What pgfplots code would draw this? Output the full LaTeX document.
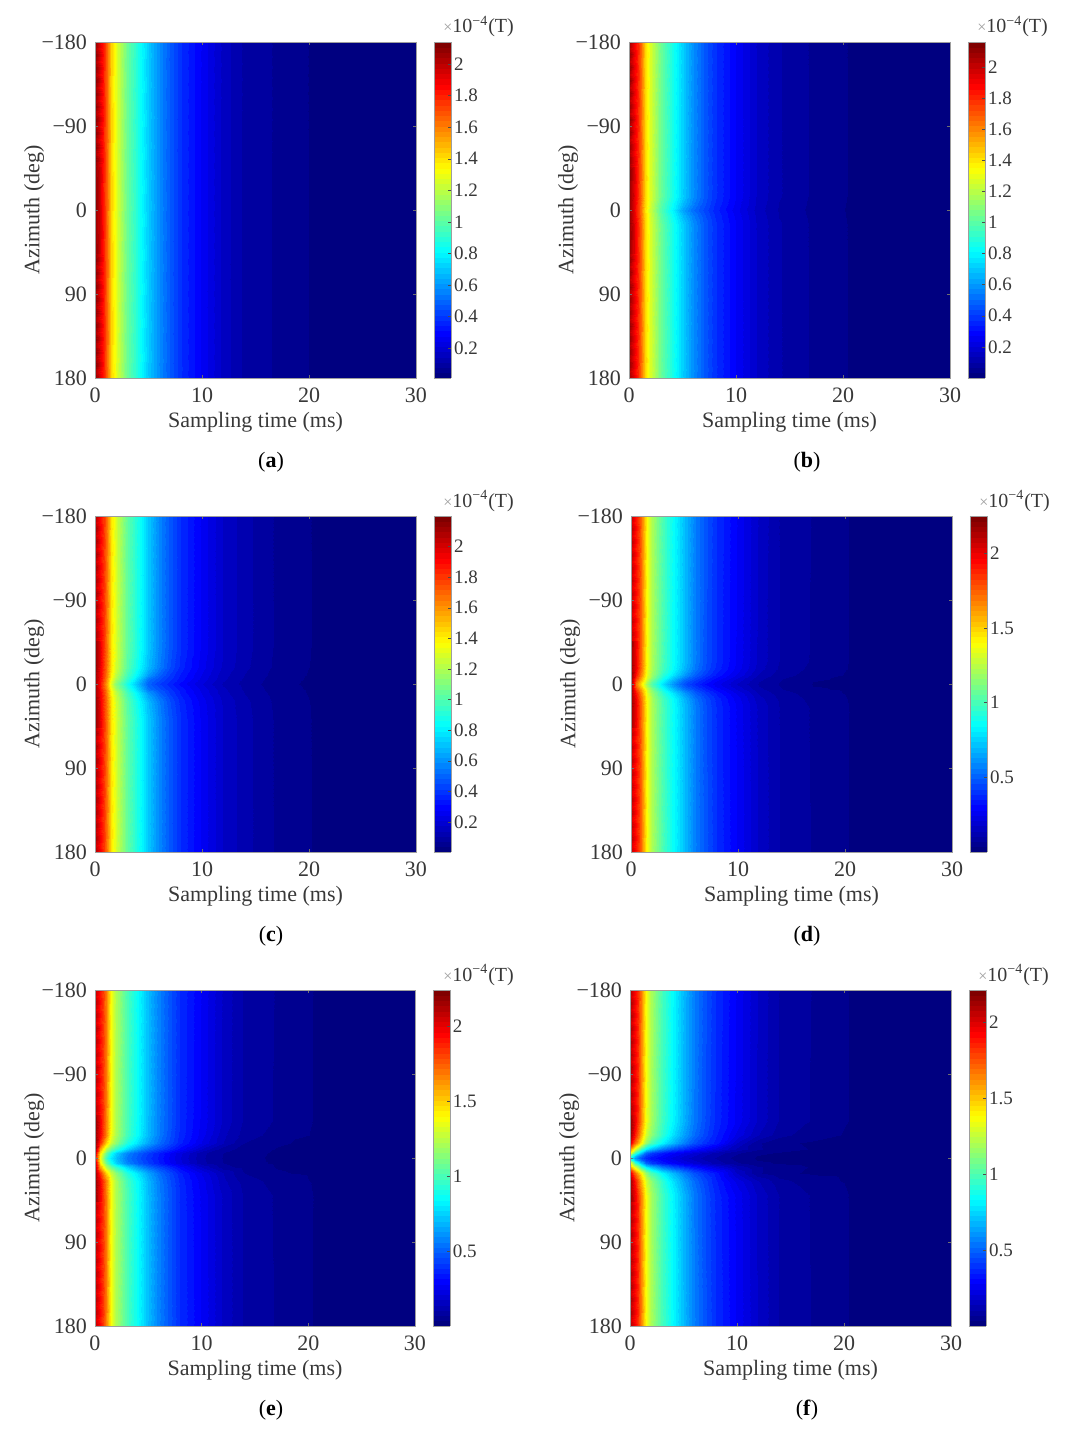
\documentclass[border=0pt]{standalone}
\usepackage{fontspec}
\setmainfont{Liberation Serif}
\usepackage{pgfplots}
\usepackage{pgfplotstable}
\pgfplotsset{compat=1.18}
\pgfplotsset{colormap/jet,colormap={jetlev}{samples of colormap=(64 of jet)}}
\definecolor{axgray}{gray}{0.62}
\definecolor{txt}{gray}{0.22}

% sampling times of the columns
\def\tv{{0,0.5,1,1.5,2,3,4,5,6,7,8,10,12,14,17,20.5,25,30}}
% adds the t and az columns to a table that holds only the values
\newcommand{\addgrid}[2]{%
\pgfplotstablecreatecol[create col/assign/.code={%
  \pgfmathtruncatemacro\ii{mod(\pgfplotstablerow,18)}%
  \pgfmathparse{\tv[\ii]}%
  \pgfkeyslet{/pgfplots/table/create col/next content}\pgfmathresult}]{t}{#1}%
\pgfplotstablecreatecol[create col/assign/.code={%
  \pgfmathtruncatemacro\ii{floor(\pgfplotstablerow/18)}%
  \pgfmathparse{#2[\ii]}%
  \pgfkeyslet{/pgfplots/table/create col/next content}\pgfmathresult}]{az}{#1}%
}
% one line = one azimuth, one value per sampling time, in 1e-4 T
\def\azA{{-180,180}}
\pgfplotstableread[row sep=\\,header=false]{
2.10\\1.95\\1.70\\1.44\\1.28\\1.03\\.87\\.71\\.58\\.47\\.38\\.27\\.165\\.10\\.072\\.038\\.028\\.015\\
2.10\\1.95\\1.70\\1.44\\1.28\\1.03\\.87\\.71\\.58\\.47\\.38\\.27\\.165\\.10\\.072\\.038\\.028\\.015\\
}\dataA
\def\azB{{-180,-15,-6,0,6,15,180}}
\pgfplotstableread[row sep=\\,header=false]{
2.12\\1.96\\1.71\\1.44\\1.28\\1.03\\.87\\.71\\.58\\.47\\.38\\.27\\.165\\.105\\.064\\.033\\.025\\.015\\
2.12\\1.96\\1.71\\1.44\\1.28\\1.03\\.87\\.71\\.58\\.47\\.38\\.27\\.165\\.105\\.064\\.033\\.025\\.015\\
2.10\\1.94\\1.69\\1.43\\1.26\\1.00\\.84\\.67\\.55\\.45\\.37\\.26\\.16\\.10\\.062\\.032\\.025\\.015\\
2.10\\1.93\\1.68\\1.41\\1.24\\.98\\.81\\.62\\.51\\.43\\.355\\.25\\.155\\.098\\.06\\.031\\.025\\.015\\
2.10\\1.94\\1.69\\1.43\\1.26\\1.00\\.84\\.67\\.55\\.45\\.37\\.26\\.16\\.10\\.062\\.032\\.025\\.015\\
2.12\\1.96\\1.71\\1.44\\1.28\\1.03\\.87\\.71\\.58\\.47\\.38\\.27\\.165\\.105\\.064\\.033\\.025\\.015\\
2.12\\1.96\\1.71\\1.44\\1.28\\1.03\\.87\\.71\\.58\\.47\\.38\\.27\\.165\\.105\\.064\\.033\\.025\\.015\\
}\dataB
\def\azC{{-180,-40,-18,-10,-5,0,5,10,18,40,180}}
\pgfplotstableread[row sep=\\,header=false]{
2.15\\1.97\\1.71\\1.44\\1.28\\1.04\\.88\\.72\\.58\\.47\\.38\\.27\\.175\\.12\\.066\\.036\\.027\\.015\\
2.15\\1.97\\1.71\\1.44\\1.28\\1.04\\.88\\.72\\.58\\.47\\.38\\.27\\.175\\.12\\.066\\.036\\.027\\.015\\
2.15\\1.96\\1.70\\1.43\\1.27\\1.02\\.85\\.69\\.56\\.45\\.365\\.26\\.17\\.115\\.063\\.035\\.027\\.015\\
2.12\\1.94\\1.68\\1.40\\1.23\\.98\\.80\\.62\\.50\\.41\\.34\\.24\\.155\\.105\\.058\\.033\\.026\\.015\\
2.12\\1.92\\1.65\\1.36\\1.18\\.94\\.74\\.54\\.46\\.39\\.33\\.23\\.15\\.10\\.054\\.032\\.025\\.015\\
2.10\\1.90\\1.60\\1.30\\1.12\\.88\\.68\\.50\\.42\\.36\\.30\\.21\\.135\\.095\\.05\\.03\\.024\\.015\\
2.12\\1.92\\1.65\\1.36\\1.18\\.94\\.74\\.54\\.46\\.39\\.33\\.23\\.15\\.10\\.054\\.032\\.025\\.015\\
2.12\\1.94\\1.68\\1.40\\1.23\\.98\\.80\\.62\\.50\\.41\\.34\\.24\\.155\\.105\\.058\\.033\\.026\\.015\\
2.15\\1.96\\1.70\\1.43\\1.27\\1.02\\.85\\.69\\.56\\.45\\.365\\.26\\.17\\.115\\.063\\.035\\.027\\.015\\
2.15\\1.97\\1.71\\1.44\\1.28\\1.04\\.88\\.72\\.58\\.47\\.38\\.27\\.175\\.12\\.066\\.036\\.027\\.015\\
2.15\\1.97\\1.71\\1.44\\1.28\\1.04\\.88\\.72\\.58\\.47\\.38\\.27\\.175\\.12\\.066\\.036\\.027\\.015\\
}\dataC
\def\azD{{-180,-25,-16,-10,-5,-2,0,2,5,10,16,25,180}}
\pgfplotstableread[row sep=\\,header=false]{
2.18\\1.98\\1.68\\1.38\\1.22\\1.00\\.85\\.70\\.57\\.47\\.385\\.275\\.17\\.10\\.068\\.034\\.026\\.015\\
2.18\\1.98\\1.68\\1.38\\1.22\\1.00\\.85\\.70\\.57\\.46\\.38\\.27\\.165\\.10\\.066\\.034\\.026\\.015\\
2.18\\1.97\\1.67\\1.37\\1.21\\.99\\.84\\.68\\.55\\.45\\.37\\.26\\.155\\.095\\.06\\.033\\.025\\.015\\
2.18\\1.92\\1.62\\1.34\\1.18\\.94\\.78\\.62\\.50\\.41\\.34\\.235\\.135\\.085\\.052\\.031\\.024\\.014\\
2.18\\1.82\\1.54\\1.30\\1.12\\.87\\.69\\.53\\.44\\.36\\.30\\.20\\.115\\.072\\.04\\.029\\.022\\.013\\
2.18\\1.74\\1.46\\1.22\\1.05\\.81\\.63\\.48\\.40\\.33\\.27\\.18\\.105\\.067\\.035\\.028\\.021\\.012\\
2.18\\1.70\\1.42\\1.18\\1.02\\.78\\.60\\.46\\.38\\.31\\.26\\.17\\.10\\.066\\.034\\.027\\.02\\.012\\
2.18\\1.74\\1.46\\1.22\\1.05\\.81\\.63\\.48\\.40\\.33\\.27\\.18\\.105\\.067\\.035\\.028\\.021\\.012\\
2.18\\1.82\\1.54\\1.30\\1.12\\.87\\.69\\.53\\.44\\.36\\.30\\.20\\.115\\.072\\.04\\.029\\.022\\.013\\
2.18\\1.92\\1.62\\1.34\\1.18\\.94\\.78\\.62\\.50\\.41\\.34\\.235\\.135\\.085\\.052\\.031\\.024\\.014\\
2.18\\1.97\\1.67\\1.37\\1.21\\.99\\.84\\.68\\.55\\.45\\.37\\.26\\.155\\.095\\.06\\.033\\.025\\.015\\
2.18\\1.98\\1.68\\1.38\\1.22\\1.00\\.85\\.70\\.57\\.46\\.38\\.27\\.165\\.10\\.066\\.034\\.026\\.015\\
2.18\\1.98\\1.68\\1.38\\1.22\\1.00\\.85\\.70\\.57\\.47\\.385\\.275\\.17\\.10\\.068\\.034\\.026\\.015\\
}\dataD
\def\azE{{-180,-40,-25,-16,-10,-5,-2,0,2,5,10,16,25,40,180}}
\pgfplotstableread[row sep=\\,header=false]{
2.18\\1.98\\1.68\\1.38\\1.22\\1.00\\.85\\.70\\.57\\.47\\.385\\.275\\.17\\.10\\.068\\.034\\.026\\.015\\
2.18\\1.98\\1.68\\1.38\\1.22\\1.00\\.85\\.70\\.57\\.47\\.38\\.27\\.168\\.10\\.066\\.034\\.026\\.015\\
2.18\\1.97\\1.67\\1.37\\1.21\\.99\\.84\\.69\\.56\\.46\\.375\\.26\\.15\\.09\\.055\\.032\\.024\\.014\\
2.18\\1.85\\1.50\\1.28\\1.14\\.92\\.78\\.65\\.53\\.44\\.36\\.24\\.14\\.07\\.038\\.03\\.023\\.013\\
2.15\\1.60\\1.25\\1.07\\.95\\.76\\.62\\.52\\.44\\.37\\.30\\.17\\.085\\.058\\.034\\.027\\.02\\.012\\
2.10\\1.45\\1.08\\.88\\.75\\.58\\.49\\.42\\.35\\.28\\.22\\.115\\.07\\.044\\.032\\.025\\.019\\.011\\
2.00\\1.40\\1.02\\.83\\.72\\.56\\.48\\.41\\.345\\.275\\.215\\.112\\.069\\.043\\.031\\.024\\.018\\.01\\
1.90\\1.38\\.98\\.80\\.70\\.55\\.47\\.40\\.34\\.27\\.21\\.11\\.068\\.042\\.031\\.024\\.018\\.01\\
2.00\\1.40\\1.02\\.83\\.72\\.56\\.48\\.41\\.345\\.275\\.215\\.112\\.069\\.043\\.031\\.024\\.018\\.01\\
2.10\\1.45\\1.08\\.88\\.75\\.58\\.49\\.42\\.35\\.28\\.22\\.115\\.07\\.044\\.032\\.025\\.019\\.011\\
2.15\\1.60\\1.25\\1.07\\.95\\.76\\.62\\.52\\.44\\.37\\.30\\.17\\.085\\.058\\.034\\.027\\.02\\.012\\
2.18\\1.85\\1.50\\1.28\\1.14\\.92\\.78\\.65\\.53\\.44\\.36\\.24\\.14\\.07\\.038\\.03\\.023\\.013\\
2.18\\1.97\\1.67\\1.37\\1.21\\.99\\.84\\.69\\.56\\.46\\.375\\.26\\.15\\.09\\.055\\.032\\.024\\.014\\
2.18\\1.98\\1.68\\1.38\\1.22\\1.00\\.85\\.70\\.57\\.47\\.38\\.27\\.168\\.10\\.066\\.034\\.026\\.015\\
2.18\\1.98\\1.68\\1.38\\1.22\\1.00\\.85\\.70\\.57\\.47\\.385\\.275\\.17\\.10\\.068\\.034\\.026\\.015\\
}\dataE
\def\azF{{-180,-40,-25,-16,-10,-5,-2,0,2,5,10,16,25,40,180}}
\pgfplotstableread[row sep=\\,header=false]{
2.15\\1.97\\1.66\\1.36\\1.20\\.98\\.83\\.68\\.56\\.46\\.38\\.27\\.17\\.10\\.068\\.034\\.026\\.015\\
2.15\\1.96\\1.65\\1.35\\1.19\\.97\\.82\\.67\\.55\\.45\\.37\\.265\\.165\\.10\\.066\\.034\\.026\\.015\\
2.15\\1.88\\1.55\\1.28\\1.14\\.93\\.77\\.63\\.52\\.43\\.35\\.23\\.14\\.08\\.05\\.03\\.024\\.014\\
2.00\\1.70\\1.40\\1.15\\1.00\\.82\\.68\\.56\\.46\\.39\\.33\\.17\\.075\\.042\\.03\\.027\\.022\\.013\\
1.60\\1.30\\1.00\\.80\\.70\\.55\\.45\\.38\\.32\\.27\\.22\\.13\\.075\\.045\\.033\\.025\\.02\\.012\\
1.40\\.95\\.71\\.50\\.42\\.34\\.28\\.24\\.20\\.16\\.125\\.075\\.04\\.032\\.028\\.023\\.018\\.011\\
1.00\\.72\\.52\\.41\\.36\\.30\\.25\\.205\\.17\\.135\\.11\\.06\\.033\\.029\\.026\\.021\\.017\\.011\\
.85\\.62\\.46\\.37\\.33\\.28\\.23\\.19\\.155\\.125\\.10\\.055\\.03\\.028\\.025\\.02\\.016\\.01\\
1.00\\.72\\.52\\.41\\.36\\.30\\.25\\.205\\.17\\.135\\.11\\.06\\.033\\.029\\.026\\.021\\.017\\.011\\
1.40\\.95\\.71\\.50\\.42\\.34\\.28\\.24\\.20\\.16\\.125\\.075\\.04\\.032\\.028\\.023\\.018\\.011\\
1.60\\1.30\\1.00\\.80\\.70\\.55\\.45\\.38\\.32\\.27\\.22\\.13\\.075\\.045\\.033\\.025\\.02\\.012\\
2.00\\1.70\\1.40\\1.15\\1.00\\.82\\.68\\.56\\.46\\.39\\.33\\.17\\.075\\.042\\.03\\.027\\.022\\.013\\
2.15\\1.88\\1.55\\1.28\\1.14\\.93\\.77\\.63\\.52\\.43\\.35\\.23\\.14\\.08\\.05\\.03\\.024\\.014\\
2.15\\1.96\\1.65\\1.35\\1.19\\.97\\.82\\.67\\.55\\.45\\.37\\.265\\.165\\.10\\.066\\.034\\.026\\.015\\
2.15\\1.97\\1.66\\1.36\\1.20\\.98\\.83\\.68\\.56\\.46\\.38\\.27\\.17\\.10\\.068\\.034\\.026\\.015\\
}\dataF
\addgrid{\dataA}{\azA}
\addgrid{\dataB}{\azB}
\addgrid{\dataC}{\azC}
\addgrid{\dataD}{\azD}
\addgrid{\dataE}{\azE}
\addgrid{\dataF}{\azF}

% scalloped left edge, away from az=0
\pgfplotstableread[row sep=\\,header=false]{
0 -180 2.10\\0.8 -180 1.80\\0 -173 2.05\\0.8 -173 1.78\\0 -166 2.12\\0.8 -166 1.82\\0 -159 2.05\\0.8 -159 1.78\\
0 -152 2.12\\0.8 -152 1.82\\0 -145 2.04\\0.8 -145 1.78\\0 -138 2.13\\0.8 -138 1.81\\0 -131 2.05\\0.8 -131 1.78\\
0 -124 2.12\\0.8 -124 1.82\\0 -117 2.05\\0.8 -117 1.78\\0 -110 2.11\\0.8 -110 1.81\\0 -103 2.04\\0.8 -103 1.79\\
0 -96 2.13\\0.8 -96 1.82\\0 -89 2.05\\0.8 -89 1.78\\0 -82 2.12\\0.8 -82 1.82\\0 -75 2.04\\0.8 -75 1.78\\
0 -68 2.12\\0.8 -68 1.81\\0 -61 2.05\\0.8 -61 1.78\\0 -54 2.12\\0.8 -54 1.82\\0 -47 2.07\\0.8 -47 1.79\\
}\stripU
\pgfplotstableread[row sep=\\,header=false]{
0 47 2.07\\0.8 47 1.79\\0 54 2.12\\0.8 54 1.82\\0 61 2.04\\0.8 61 1.78\\0 68 2.12\\0.8 68 1.81\\
0 75 2.05\\0.8 75 1.78\\0 82 2.13\\0.8 82 1.82\\0 89 2.04\\0.8 89 1.78\\0 96 2.12\\0.8 96 1.82\\
0 103 2.05\\0.8 103 1.78\\0 110 2.11\\0.8 110 1.81\\0 117 2.04\\0.8 117 1.78\\0 124 2.13\\0.8 124 1.82\\
0 131 2.05\\0.8 131 1.78\\0 138 2.12\\0.8 138 1.82\\0 145 2.04\\0.8 145 1.78\\0 152 2.12\\0.8 152 1.81\\
0 159 2.05\\0.8 159 1.79\\0 166 2.12\\0.8 166 1.82\\0 173 2.04\\0.8 173 1.78\\0 180 2.10\\0.8 180 1.80\\
}\stripL

% table, azimuth rows, left px, top px, width px, meta min, meta max, colorbar ticks
\newcommand{\panel}[8]{
\begin{axis}[
    at={(#3*0.5pt,-#4*0.5pt)}, anchor=north west,
    scale only axis, width=#5*0.5pt, height=168pt,
    xmin=0, xmax=30, ymin=-180, ymax=180, y dir=reverse,
    xtick={0,10,20,30}, ytick={-180,-90,0,90,180},
    xticklabels={0,10,20,30}, yticklabels={−180,−90,0,90,180},
    tick align=inside, major tick length=1.5pt,
    axis line style={axgray}, tick style={axgray!70!black, thin},
    tick label style={text=txt},
    xticklabel style={yshift=-1.5pt}, yticklabel style={xshift=-0.5pt},
    label style={text=txt},
    xlabel={Sampling time (ms)}, ylabel={Azimuth (deg)},
    xlabel style={at={(axis description cs:0.5,-0.131)},anchor=center},
    ylabel style={at={(axis description cs:-0.19,0.5)},anchor=center},
    axis on top,
    colormap name=jetlev, colormap access=piecewise constant,
    point meta min=#6, point meta max=#7,
    colorbar,
    colorbar style={
        at={(1.056,1)}, anchor=north west,
        width=8.5pt, height=168pt,
        ytick={#8}, ytick pos=right,
        /pgf/number format/assume math mode=true,
        yticklabel style={text=txt, xshift=-2pt, font=\fontsize{9.5}{12}\selectfont},
        major tick length=1.5pt, tick style={black!70},
        axis line style={axgray},
    },
]
\addplot[surf, shader=interp, mesh/rows=#2, point meta=explicit]
    table[x=t, y=az, meta index=0] {#1};
\addplot[surf, shader=interp, mesh/rows=20, point meta=explicit]
    table[x index=0, y index=1, meta index=2] {\stripU};
\addplot[surf, shader=interp, mesh/rows=20, point meta=explicit]
    table[x index=0, y index=1, meta index=2] {\stripL};
\end{axis}
\node[anchor=base west, text=txt, inner sep=0pt, font=\fontsize{10}{12}\selectfont] at ({(#3+348)*0.5pt},{-(#4-9)*0.5pt}) {{\fontsize{8}{10}\selectfont\color{axgray}×}10\textsuperscript{−4}(T)};
}
\newcommand{\subcap}[3]{\node[text=black] at (#1*0.5pt,-#2*0.5pt) {(\textbf{#3})};}

\begin{document}
\begin{tikzpicture}[font=\fontsize{11}{13}\selectfont]
\path[use as bounding box] (0,0) rectangle (535pt,-716.5pt);
\panel{\dataA}{2}{95}{42}{321}{0.01}{2.14}{0.2,0.4,...,2}
\panel{\dataB}{7}{629}{42}{321}{0.0}{2.16}{0.2,0.4,...,2}
\panel{\dataC}{11}{95}{516}{321}{0.004}{2.2}{0.2,0.4,...,2}
\panel{\dataD}{13}{631}{516}{321}{0.0}{2.25}{0.5,1,1.5,2}
\panel{\dataE}{15}{95}{990}{320}{0.0}{2.24}{0.5,1,1.5,2}
\panel{\dataF}{15}{630}{990}{321}{0.0}{2.21}{0.5,1,1.5,2}
\subcap{271}{462}{a}
\subcap{807}{462}{b}
\subcap{271}{936}{c}
\subcap{807}{936}{d}
\subcap{271}{1410}{e}
\subcap{807}{1410}{f}
\end{tikzpicture}
\end{document}
